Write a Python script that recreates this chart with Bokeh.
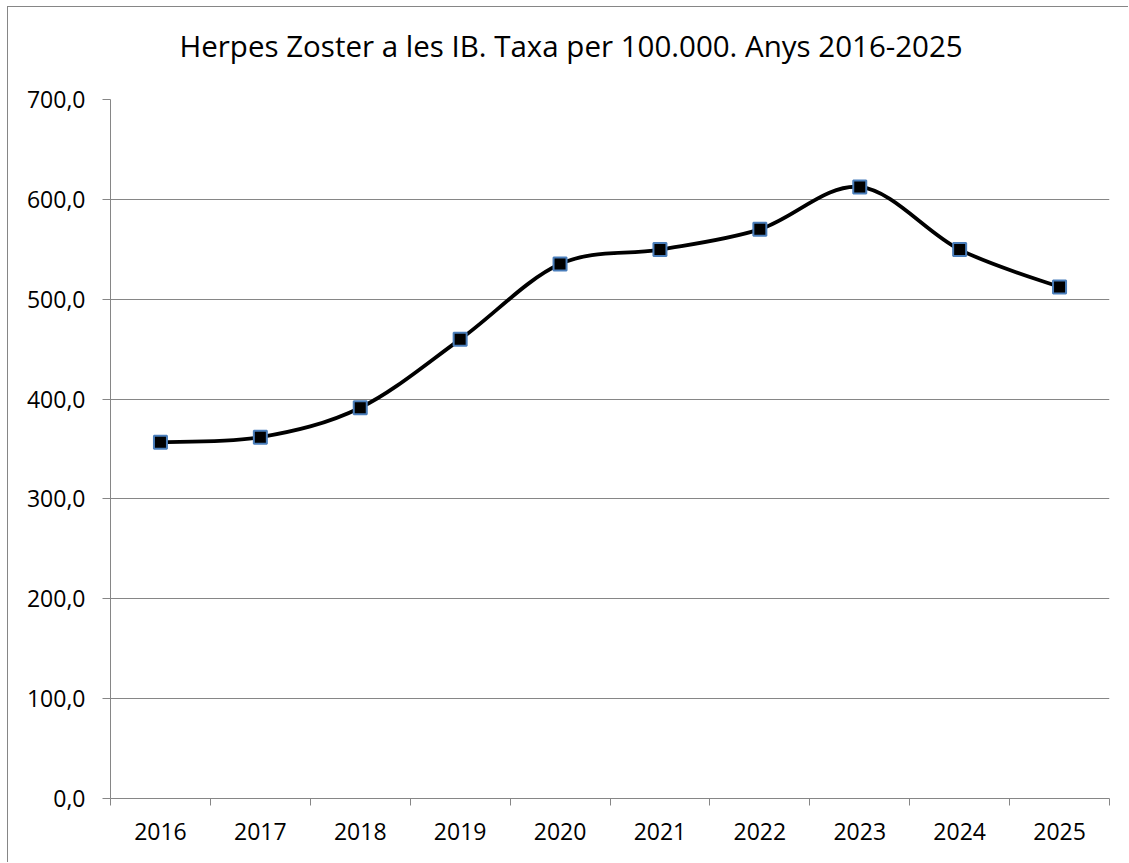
from bokeh.plotting import figure
from bokeh.models import FixedTicker, Range1d, ColumnDataSource, Title
from bokeh.embed import file_html
from bokeh.resources import INLINE

# ---- data ----
years = ["2016", "2017", "2018", "2019", "2020", "2021", "2022", "2023", "2024", "2025"]
rates = [356.8, 361.8, 391.3, 459.8, 535.2, 549.7, 570.0, 612.4, 549.7, 512.2]
y_ticks = [0, 100, 200, 300, 400, 500, 600, 700]
y_tick_labels = ["0,0", "100,0", "200,0", "300,0", "400,0", "500,0", "600,0", "700,0"]
title_text = "Herpes Zoster a les IB. Taxa per 100.000. Anys 2016-2025"

FONT = "Open Sans"
GRID = "#868686"

xs = list(range(len(years)))

p = figure(width=1121, height=856, output_backend="svg", toolbar_location=None,
           x_range=Range1d(-0.5, len(years) - 0.5), y_range=Range1d(0, 700),
           min_border_left=102, min_border_right=20, min_border_top=92, min_border_bottom=65)
p.title_location = None
p.styles = {"margin-left": "7px", "margin-top": "6px",
            "border-left": "1px solid #868686", "border-top": "1px solid #868686"}
p.outline_line_color = None
p.background_fill_color = "white"
p.border_fill_color = "white"

# spacer between title and plot frame (first added = closest to the frame)
spacer = Title(text=" ", text_font_size="1px", standoff=31)
p.add_layout(spacer, "above")

# main title
main_title = Title(text=title_text, align="left", offset=69, vertical_align="bottom",
                   text_font=FONT, text_font_size="29.5px", text_font_style="normal",
                   text_color="black", standoff=0)
p.add_layout(main_title, "above")

# x axis: labels at centres, small ticks at category boundaries (minor ticks)
p.xaxis.ticker = FixedTicker(ticks=xs, minor_ticks=[i - 0.5 for i in range(len(years) + 1)])
p.xaxis.major_label_overrides = {i: y for i, y in enumerate(years)}
p.xaxis.major_tick_line_color = None
p.xaxis.major_tick_out = 0
p.xaxis.major_tick_in = 0
p.xaxis.minor_tick_line_color = GRID
p.xaxis.minor_tick_out = 7
p.xaxis.minor_tick_in = 0
p.xaxis.axis_line_color = GRID
p.xaxis.major_label_text_font = FONT
p.xaxis.major_label_text_font_size = "23px"
p.xaxis.major_label_text_color = "black"
p.xaxis.major_label_standoff = 17

# y axis
p.yaxis.ticker = FixedTicker(ticks=y_ticks, minor_ticks=[])
p.yaxis.major_label_overrides = {v: s for v, s in zip(y_ticks, y_tick_labels)}
p.yaxis.major_tick_line_color = GRID
p.yaxis.major_tick_out = 8
p.yaxis.major_tick_in = 0
p.yaxis.axis_line_color = GRID
p.yaxis.major_label_text_font = FONT
p.yaxis.major_label_text_font_size = "23px"
p.yaxis.major_label_text_color = "black"
p.yaxis.major_label_standoff = 17

p.xgrid.grid_line_color = None
p.ygrid.grid_line_color = GRID
p.ygrid.grid_line_width = 1

# smoothed line (Bezier segments with Catmull-Rom style control points)
n = len(rates)
x0, y0, x1, y1, cx0, cy0, cx1, cy1 = [], [], [], [], [], [], [], []
for i in range(n - 1):
    pm = max(i - 1, 0)
    pp = min(i + 2, n - 1)
    x0.append(xs[i]); y0.append(rates[i])
    x1.append(xs[i + 1]); y1.append(rates[i + 1])
    cx0.append(xs[i] + (xs[i + 1] - xs[pm]) / 6.0)
    cy0.append(rates[i] + (rates[i + 1] - rates[pm]) / 6.0)
    cx1.append(xs[i + 1] - (xs[pp] - xs[i]) / 6.0)
    cy1.append(rates[i + 1] - (rates[pp] - rates[i]) / 6.0)

bsrc = ColumnDataSource(dict(x0=x0, y0=y0, x1=x1, y1=y1, cx0=cx0, cy0=cy0, cx1=cx1, cy1=cy1))
p.bezier(x0="x0", y0="y0", x1="x1", y1="y1", cx0="cx0", cy0="cy0", cx1="cx1", cy1="cy1",
         source=bsrc, line_color="black", line_width=3.8)

p.scatter(xs, rates, marker="square", size=13, fill_color="black",
          line_color="#4A7EBB", line_width=2)

open("out.html", "w").write(file_html(p, INLINE))
